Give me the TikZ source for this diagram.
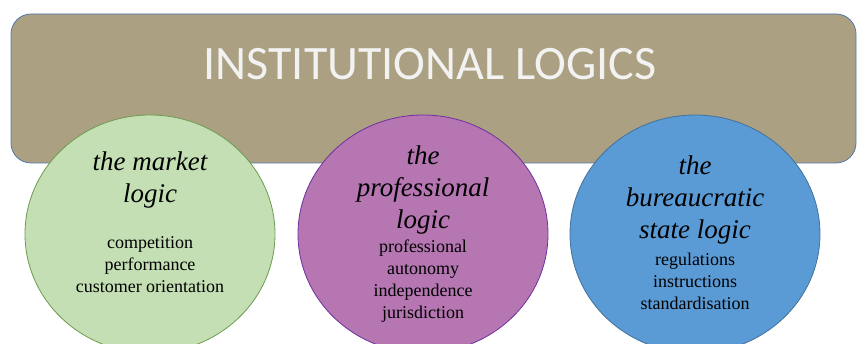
\documentclass[tikz,border=0pt]{standalone}
\usepackage{fontspec}
\setmainfont{Liberation Serif}
\newfontfamily\titlefont{Carlito}
\usetikzlibrary{shapes.geometric}
\definecolor{taupe}{RGB}{172,160,130}
\definecolor{bordbleu}{RGB}{80,120,170}
\definecolor{vert}{RGB}{196,223,180}
\definecolor{bordvert}{RGB}{110,155,80}
\definecolor{violet}{RGB}{181,118,178}
\definecolor{bordviolet}{RGB}{112,48,160}
\definecolor{bleu}{RGB}{91,155,213}
\definecolor{bordbleu2}{RGB}{65,113,156}
\tikzstyle{bandeau} = [rectangle, draw=bordbleu, fill=taupe, rounded corners=20, line width=0.8pt]
\tikzstyle{bulle} = [ellipse, line width=0.8pt, minimum width=250, minimum height=238, inner sep=0]
\tikzstyle{entete} = [align=center, font=\fontsize{27}{32}\selectfont\itshape, inner sep=0]
\tikzstyle{corps} = [align=center, font=\fontsize{18}{22}\selectfont, inner sep=0]

\begin{document}
\begin{tikzpicture}[x=1pt, y=-1pt]
        \useasboundingbox (0,0) rectangle (857,344);

        \draw[bandeau] (11,14) rectangle (856,163);
        \node (titre) [font=\fontsize{48}{58}\titlefont, text=white!95!black] at (430,64) {INSTITUTIONAL LOGICS};

        \node (marche) [bulle, draw=bordvert, fill=vert] at (150,234) {};
        \node (pro) [bulle, draw=bordviolet, fill=violet] at (423,234) {};
        \node (etat) [bulle, draw=bordbleu2, fill=bleu] at (695,234) {};

        \node (t1) [entete] at (150,180) {the market\\logic};
        \node (c1) [corps] at (150,265) {competition\\performance\\customer orientation};

        \node (t2) [entete] at (423,190) {the\\professional\\logic};
        \node (c2) [corps] at (423,281) {professional\\autonomy\\independence\\jurisdiction};

        \node (t3) [entete] at (695,200) {the\\bureaucratic\\state logic};
        \node (c3) [corps] at (695,281) {regulations\\instructions\\standardisation};

    \end{tikzpicture}
\end{document}
